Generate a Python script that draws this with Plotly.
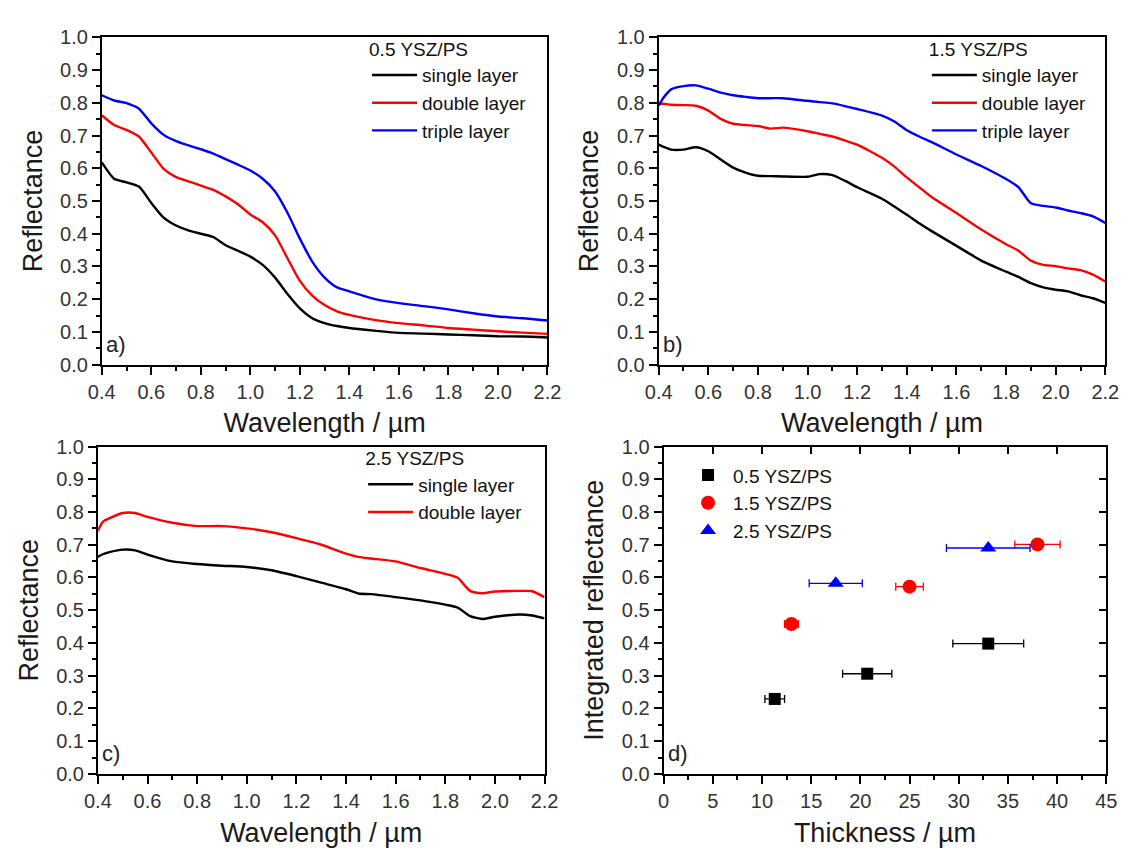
import plotly.graph_objects as go

W, H = 1133, 857

# ---------------- data ----------------
wl_a = [0.4, 0.45, 0.5, 0.55, 0.6, 0.65, 0.7, 0.75, 0.8, 0.85, 0.9, 0.95, 1.0, 1.05, 1.1, 1.15,
        1.2, 1.25, 1.3, 1.35, 1.4, 1.5, 1.6, 1.7, 1.8, 1.9, 2.0, 2.1, 2.2]
a_single = [0.618, 0.568, 0.557, 0.544, 0.494, 0.449, 0.425, 0.41, 0.40, 0.39, 0.365, 0.348, 0.33,
            0.305, 0.266, 0.216, 0.172, 0.142, 0.127, 0.118, 0.112, 0.104, 0.097, 0.095, 0.092,
            0.090, 0.087, 0.086, 0.083]
a_double = [0.762, 0.732, 0.717, 0.697, 0.648, 0.598, 0.573, 0.56, 0.547, 0.534, 0.514, 0.49, 0.459,
            0.435, 0.395, 0.325, 0.256, 0.211, 0.182, 0.163, 0.152, 0.137, 0.127, 0.12, 0.112,
            0.107, 0.102, 0.098, 0.094]
a_triple = [0.823, 0.807, 0.799, 0.782, 0.737, 0.702, 0.683, 0.67, 0.658, 0.645, 0.628, 0.611, 0.593,
            0.568, 0.529, 0.464, 0.385, 0.315, 0.266, 0.236, 0.224, 0.201, 0.188, 0.179, 0.169,
            0.157, 0.147, 0.142, 0.135]

wl_b = [0.4, 0.42, 0.45, 0.5, 0.55, 0.6, 0.65, 0.7, 0.75, 0.8, 0.85, 0.9, 1.0, 1.05, 1.1, 1.15,
        1.2, 1.3, 1.35, 1.4, 1.45, 1.5, 1.6, 1.7, 1.8, 1.85, 1.9, 1.95, 2.0, 2.05, 2.1, 2.15, 2.2]
b_single = [0.672, 0.665, 0.657, 0.657, 0.664, 0.652, 0.627, 0.602, 0.587, 0.577, 0.576, 0.575,
            0.574, 0.582, 0.579, 0.562, 0.542, 0.507, 0.483, 0.458, 0.432, 0.408, 0.363, 0.318,
            0.284, 0.268, 0.249, 0.236, 0.229, 0.224, 0.212, 0.203, 0.189]
b_double = [0.798, 0.797, 0.794, 0.793, 0.791, 0.776, 0.751, 0.736, 0.732, 0.729, 0.721, 0.724,
            0.713, 0.705, 0.697, 0.685, 0.672, 0.632, 0.605, 0.572, 0.542, 0.512, 0.463, 0.413,
            0.368, 0.348, 0.318, 0.305, 0.301, 0.294, 0.289, 0.275, 0.254]
b_triple = [0.791, 0.816, 0.841, 0.851, 0.853, 0.843, 0.831, 0.823, 0.818, 0.814, 0.814, 0.814,
            0.806, 0.802, 0.798, 0.79, 0.781, 0.761, 0.743, 0.716, 0.697, 0.680, 0.642, 0.607,
            0.567, 0.542, 0.493, 0.485, 0.480, 0.471, 0.463, 0.453, 0.433]

wl_c = [0.4, 0.42, 0.45, 0.5, 0.55, 0.6, 0.7, 0.8, 0.9, 1.0, 1.1, 1.2, 1.3, 1.4, 1.45, 1.5, 1.6,
        1.7, 1.8, 1.85, 1.9, 1.95, 2.0, 2.1, 2.15, 2.2]
c_single = [0.663, 0.671, 0.678, 0.685, 0.683, 0.670, 0.649, 0.641, 0.636, 0.632, 0.622, 0.604,
            0.584, 0.564, 0.551, 0.549, 0.540, 0.530, 0.517, 0.508, 0.482, 0.473, 0.480, 0.487,
            0.484, 0.475]
c_double = [0.743, 0.77, 0.782, 0.797, 0.797, 0.785, 0.767, 0.757, 0.757, 0.750, 0.738, 0.720,
            0.700, 0.673, 0.663, 0.658, 0.649, 0.629, 0.611, 0.599, 0.559, 0.552, 0.557, 0.559,
            0.558, 0.540]

thick_05 = [11.3, 20.7, 33.0]
thick_05_err = [1.0, 2.5, 3.6]
refl_05 = [0.229, 0.306, 0.398]
thick_15 = [13.0, 25.0, 38.0]
thick_15_err = [0.7, 1.4, 2.3]
refl_15 = [0.458, 0.572, 0.701]
thick_25 = [17.5, 33.0]
thick_25_err = [2.7, 4.25]
refl_25 = [0.582, 0.690]

layer_names = ["single layer", "double layer", "triple layer"]
layer_colors = ["#000000", "#ff0000", "#0000ff"]

FONT = "Liberation Sans, Arial, sans-serif"
TICK_COL = "#333333"
TITLE_COL = "#1a1a1a"
TICK_SIZE = 20
TITLE_SIZE = 27
LEG_SIZE = 19

# ---------------- figure ----------------
fig = go.Figure()

panels = [
    ("x", "y", "legend", wl_a, [a_single, a_double, a_triple]),
    ("x2", "y2", "legend2", wl_b, [b_single, b_double, b_triple]),
    ("x3", "y3", "legend3", wl_c, [c_single, c_double]),
]
for xa, ya, lg, wl, series in panels:
    for name, col, vals in zip(layer_names, layer_colors, series):
        fig.add_trace(go.Scatter(
            x=wl, y=vals, mode="lines", name=name, xaxis=xa, yaxis=ya, legend=lg,
            line=dict(color=col, width=2.4, shape="spline", smoothing=0.6),
        ))

for name, col, sym, tx, te, rv, ms in [
    ("0.5 YSZ/PS", "#000000", "square", thick_05, thick_05_err, refl_05, 12),
    ("1.5 YSZ/PS", "#ff0000", "circle", thick_15, thick_15_err, refl_15, 14),
    ("2.5 YSZ/PS", "#0000ff", "triangle-up", thick_25, thick_25_err, refl_25, 14),
]:
    fig.add_trace(go.Scatter(
        x=tx, y=rv, mode="markers", name=name, xaxis="x4", yaxis="y4", legend="legend4",
        marker=dict(color=col, symbol=sym, size=ms, line=dict(width=0)),
        error_x=dict(type="data", array=te, visible=True, color=col, thickness=1.3, width=4),
    ))

# empty trace to host the inward top/right tick axes of panel d
fig.add_trace(go.Scatter(x=[], y=[], xaxis="x5", yaxis="y5", showlegend=False, hoverinfo="skip"))


def px_x(p):
    return p / W


def px_y(p):
    return 1 - p / H


def wl_axis(dom, anchor, standoff=12):
    return dict(
        domain=dom, anchor=anchor, range=[0.4, 2.2], tick0=0.4, dtick=0.2, tickformat=".1f",
        ticks="outside", ticklen=8, tickwidth=1.5, tickcolor="black",
        minor=dict(dtick=0.1, ticks="outside", ticklen=4, tickwidth=1.5, tickcolor="black"),
        showline=True, linecolor="black", linewidth=1.8, mirror=True,
        showgrid=False, zeroline=False,
        tickfont=dict(family=FONT, size=TICK_SIZE, color=TICK_COL),
        title=dict(text="Wavelength / µm", font=dict(family=FONT, size=TITLE_SIZE, color=TITLE_COL),
                   standoff=standoff),
    )


def refl_axis(dom, anchor, text="Reflectance", standoff=10):
    return dict(
        domain=dom, anchor=anchor, range=[0, 1], tick0=0, dtick=0.1, tickformat=".1f",
        ticks="outside", ticklen=8, tickwidth=1.5, tickcolor="black",
        minor=dict(dtick=0.05, ticks="outside", ticklen=4, tickwidth=1.5, tickcolor="black"),
        showline=True, linecolor="black", linewidth=1.8, mirror=True,
        showgrid=False, zeroline=False,
        tickfont=dict(family=FONT, size=TICK_SIZE, color=TICK_COL),
        title=dict(text=text, font=dict(family=FONT, size=TITLE_SIZE, color=TITLE_COL),
                   standoff=standoff),
    )


xa_dom = [px_x(90), px_x(547)]
xb_dom = [px_x(661), px_x(1119)]
xc_dom = [px_x(86), px_x(544)]
xd_dom = [px_x(666), px_x(1120)]
ytop_dom = [px_y(363), px_y(27)]
ybot_dom = [px_y(783), px_y(447)]

x4 = dict(
    domain=xd_dom, anchor="y4", range=[0, 45], tick0=0, dtick=5,
    ticks="outside", ticklen=8, tickwidth=1.5, tickcolor="black",
    minor=dict(dtick=2.5, ticks="outside", ticklen=4, tickwidth=1.5, tickcolor="black"),
    showline=True, linecolor="black", linewidth=1.8, mirror=True,
    showgrid=False, zeroline=False,
    tickfont=dict(family=FONT, size=TICK_SIZE, color=TICK_COL),
    title=dict(text="Thickness / µm", font=dict(family=FONT, size=TITLE_SIZE, color=TITLE_COL),
               standoff=12),
)
x5 = dict(overlaying="x4", anchor="y4", side="top", range=[0, 45], tick0=0, dtick=5,
          ticks="inside", ticklen=7, tickwidth=1.5, tickcolor="black", showticklabels=False,
          showline=False, showgrid=False, zeroline=False)
y5 = dict(overlaying="y4", anchor="x4", side="right", range=[0, 1], tick0=0, dtick=0.1,
          ticks="inside", ticklen=7, tickwidth=1.5, tickcolor="black", showticklabels=False,
          showline=False, showgrid=False, zeroline=False)

legend_common = dict(
    bgcolor="rgba(0,0,0,0)", borderwidth=0, xanchor="left", yanchor="top",
    font=dict(family=FONT, size=LEG_SIZE, color="#111111"), tracegroupgap=0, itemwidth=45,
)
title_font = dict(family=FONT, size=LEG_SIZE, color="#111111")

fig.update_layout(
    width=W, height=H, margin=dict(l=0, r=0, t=0, b=0),
    paper_bgcolor="white", plot_bgcolor="white",
    font=dict(family=FONT),
    xaxis=wl_axis(xa_dom, "y"), yaxis=refl_axis(ytop_dom, "x"),
    xaxis2=wl_axis(xb_dom, "y2"), yaxis2=refl_axis(ytop_dom, "x2"),
    xaxis3=wl_axis(xc_dom, "y3"), yaxis3=refl_axis(ybot_dom, "x3"),
    xaxis4=x4, yaxis4=refl_axis(ybot_dom, "x4", text="Integrated reflectance"),
    xaxis5=x5, yaxis5=y5,
    legend=dict(legend_common, x=px_x(362), y=px_y(21), title=dict(text="0.5 YSZ/PS", font=title_font)),
    legend2=dict(legend_common, x=px_x(936), y=px_y(21), title=dict(text="1.5 YSZ/PS", font=title_font)),
    legend3=dict(legend_common, x=px_x(358), y=px_y(441), title=dict(text="2.5 YSZ/PS", font=title_font)),
    legend4=dict(legend_common, x=px_x(686), y=px_y(457), itemwidth=40),
    showlegend=True,
)

for xr, yr, txt in [("x", "y", "a)"), ("x2", "y2", "b)"), ("x3", "y3", "c)"), ("x4", "y4", "d)")]:
    fig.add_annotation(
        text=txt, xref=f"{xr} domain", yref=f"{yr} domain", x=0.005, y=0.062,
        xanchor="left", yanchor="middle", showarrow=False,
        font=dict(family=FONT, size=22, color="#222222"),
    )

fig.write_html("out.html")
